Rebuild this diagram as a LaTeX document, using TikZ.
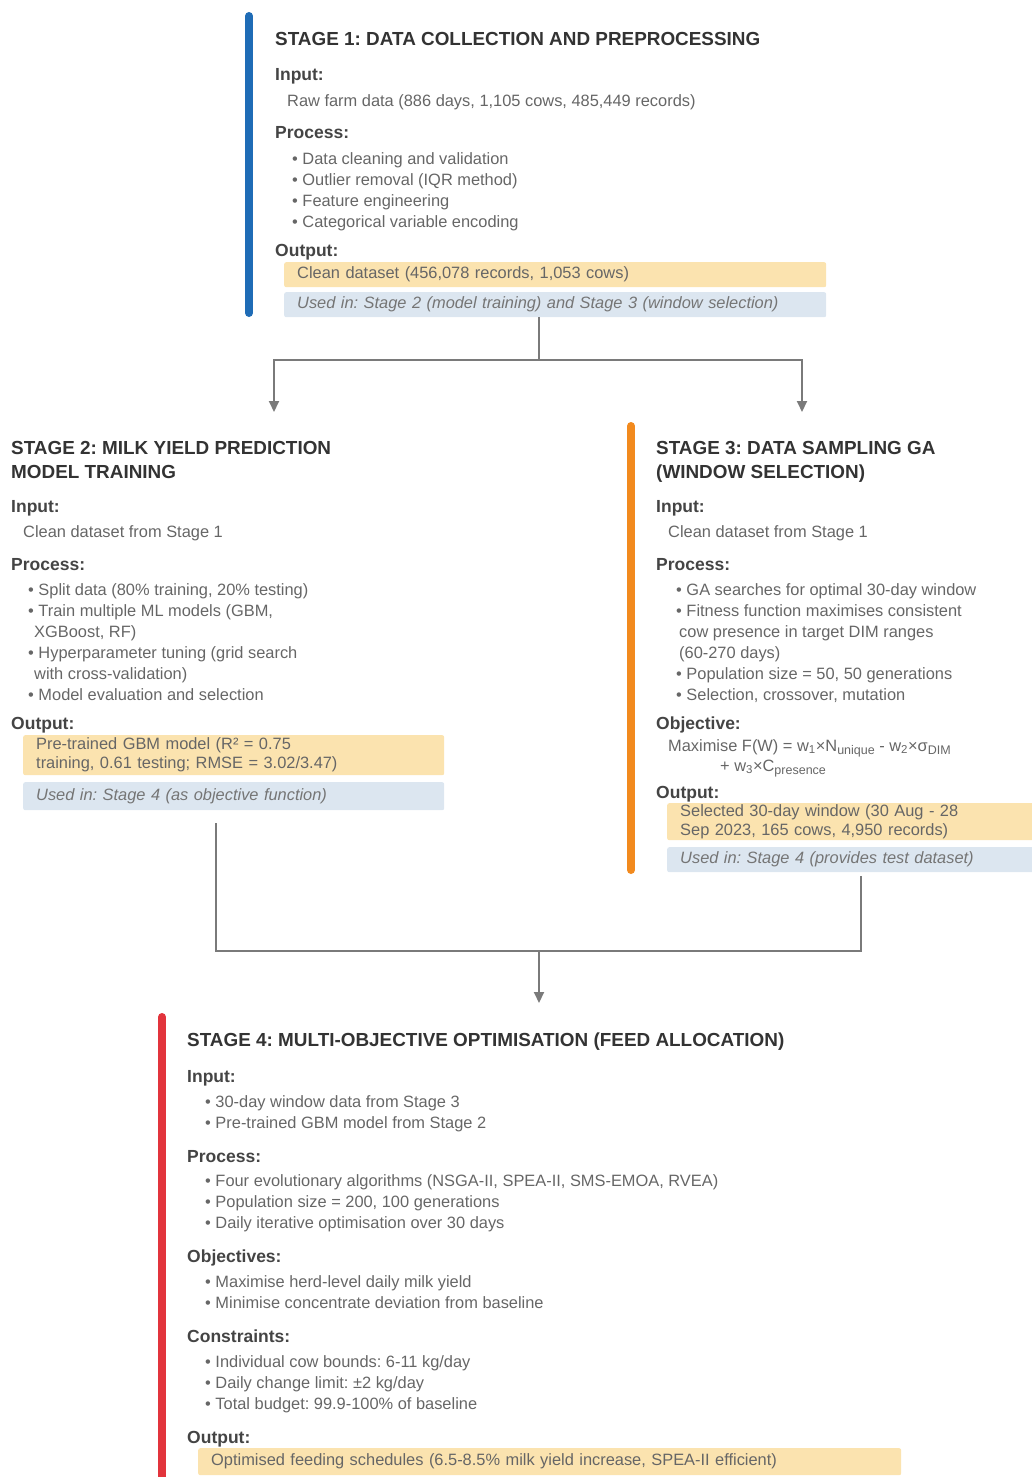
\documentclass[tikz,border=0pt]{standalone}
\usepackage{fontspec}
\setmainfont{Liberation Sans}
\usetikzlibrary{arrows.meta}

\definecolor{stageblue}{HTML}{1F6CB6}
\definecolor{stageorange}{HTML}{F28A1E}
\definecolor{stagered}{HTML}{E2343C}
\definecolor{outfill}{HTML}{FBE3AF}
\definecolor{usefill}{HTML}{DCE6F0}
\definecolor{titlegray}{HTML}{333333}
\definecolor{headgray}{HTML}{444444}
\definecolor{bodygray}{HTML}{666666}
\definecolor{linegray}{HTML}{7A7A7A}

\newcommand{\lowsub}[1]{\raisebox{-0.45ex}{\fontsize{12.5}{12.5}\selectfont #1}}
\frenchspacing

\begin{document}
\begin{tikzpicture}[
    x=1pt, y=-1pt,
    title/.style={anchor=base west, inner sep=0pt, yshift=-1pt, text=titlegray, font=\fontsize{18.9}{22}\selectfont\bfseries},
    head/.style={anchor=base west, inner sep=0pt, yshift=-1pt, text=headgray, font=\fontsize{17.5}{20}\selectfont\bfseries},
    body/.style={anchor=base west, inner sep=0pt, yshift=-1pt, text=bodygray, font=\fontsize{16.4}{19}\selectfont},
    outbox/.style={anchor=north west, fill=outfill, rounded corners=2pt, inner xsep=13pt, inner ysep=0pt, align=left, text=bodygray, font=\fontsize{16.4}{19}\selectfont},
    usebox/.style={outbox, fill=usefill, text=bodygray!90, font=\fontsize{16.4}{19}\selectfont\itshape},
    bar/.style={line width=8pt, line cap=round},
    link/.style={draw=linegray, line width=2pt},
    arrow/.style={link, -{Triangle[length=11pt, width=10pt]}}
]
    \clip (0,0) rectangle (1032,1477);

    % Stage 1
    \draw[bar, draw=stageblue] (249,16) -- (249,313);
    \node[title] (s1title) at (275,45) {STAGE 1: DATA COLLECTION AND PREPROCESSING};
    \node[head] (s1in) at (275,80) {Input:};
    \node[body] (s1data) at (287,105.5) {Raw farm data (886 days, 1,105 cows, 485,449 records)};
    \node[head] (s1proc) at (275,138) {Process:};
    \node[body] (s1p1) at (292,163.5) {• Data cleaning and validation};
    \node[body] (s1p2) at (292,184.5) {• Outlier removal (IQR method)};
    \node[body] (s1p3) at (292,205.5) {• Feature engineering};
    \node[body] (s1p4) at (292,226.5) {• Categorical variable encoding};
    \node[head] (s1outl) at (275,255) {Output:};
    \node[outbox, text width=516pt, minimum height=25pt] (s1out) at (284,262) {Clean dataset (456,078 records, 1,053 cows)};
    \node[usebox, text width=516pt, minimum height=25pt] (s1use) at (284,292) {Used in: Stage 2 (model training) and Stage 3 (window selection)};

    % Split to Stage 2 and Stage 3
    \coordinate (fork) at (539,360);
    \coordinate (s2tip) at (274,412);
    \coordinate (s3tip) at (802,412);
    \draw[link] (s1use.south -| fork) -- (fork);
    \draw[arrow] (fork) -| (s2tip);
    \draw[arrow] (fork) -| (s3tip);

    % Stage 2
    \node[title] (s2title) at (11,453.5) {STAGE 2: MILK YIELD PREDICTION};
    \node[title] (s2title2) at (11,477.5) {MODEL TRAINING};
    \node[head] (s2in) at (11,511) {Input:};
    \node[body] (s2data) at (23,536.5) {Clean dataset from Stage 1};
    \node[head] (s2proc) at (11,569) {Process:};
    \node[body] (s2p1) at (28,594.5) {• Split data (80\% training, 20\% testing)};
    \node[body] (s2p2) at (28,615.5) {• Train multiple ML models (GBM,};
    \node[body] (s2p2b) at (34,636.5) {XGBoost, RF)};
    \node[body] (s2p3) at (28,657.5) {• Hyperparameter tuning (grid search};
    \node[body] (s2p3b) at (34,678.5) {with cross-validation)};
    \node[body] (s2p4) at (28,699.5) {• Model evaluation and selection};
    \node[head] (s2outl) at (11,728) {Output:};
    \node[outbox, text width=395pt, minimum height=40pt] (s2out) at (23,735) {Pre-trained GBM model (R² = 0.75\\training, 0.61 testing; RMSE = 3.02/3.47)};
    \node[usebox, text width=395pt, minimum height=28pt] (s2use) at (23,782) {Used in: Stage 4 (as objective function)};

    % Stage 3
    \draw[bar, draw=stageorange] (631,426) -- (631,870);
    \node[title] (s3title) at (656,453.5) {STAGE 3: DATA SAMPLING GA};
    \node[title] (s3title2) at (656,477.5) {(WINDOW SELECTION)};
    \node[head] (s3in) at (656,511) {Input:};
    \node[body] (s3data) at (668,536.5) {Clean dataset from Stage 1};
    \node[head] (s3proc) at (656,569) {Process:};
    \node[body] (s3p1) at (676,594.5) {• GA searches for optimal 30-day window};
    \node[body] (s3p2) at (676,615.5) {• Fitness function maximises consistent};
    \node[body] (s3p2b) at (679,636.5) {cow presence in target DIM ranges};
    \node[body] (s3p2c) at (679,657.5) {(60-270 days)};
    \node[body] (s3p3) at (676,678.5) {• Population size = 50, 50 generations};
    \node[body] (s3p4) at (676,699.5) {• Selection, crossover, mutation};
    \node[head] (s3obj) at (656,728) {Objective:};
    \node[body] (s3f1) at (668,750) {Maximise F(W) = w\textsubscript{1}×N\lowsub{unique} - w\textsubscript{2}×σ\lowsub{DIM}};
    \node[body] (s3f2) at (720,770) {+ w\textsubscript{3}×C\lowsub{presence}};
    \node[head] (s3outl) at (656,797) {Output:};
    \node[outbox, text width=367pt, minimum height=37pt] (s3out) at (667,803) {Selected 30-day window (30 Aug - 28\\Sep 2023, 165 cows, 4,950 records)};
    \node[usebox, text width=367pt, minimum height=25pt] (s3use) at (667,847) {Used in: Stage 4 (provides test dataset)};

    % Merge into Stage 4
    \coordinate (s2leg) at (216,823);
    \coordinate (s3leg) at (861,876);
    \coordinate (merge) at (539,951);
    \coordinate (s4tip) at (539,1003);
    \draw[link] (s2leg) |- (merge);
    \draw[link] (s3leg) |- (merge);
    \draw[arrow] (merge) -- (s4tip);

    % Stage 4
    \draw[bar, draw=stagered] (162,1017) -- (162,1490);
    \node[title] (s4title) at (187,1045.5) {STAGE 4: MULTI-OBJECTIVE OPTIMISATION (FEED ALLOCATION)};
    \node[head] (s4in) at (187,1081) {Input:};
    \node[body] (s4i1) at (205,1106.5) {• 30-day window data from Stage 3};
    \node[body] (s4i2) at (205,1127.5) {• Pre-trained GBM model from Stage 2};
    \node[head] (s4proc) at (187,1161) {Process:};
    \node[body] (s4p1) at (205,1185.5) {• Four evolutionary algorithms (NSGA-II, SPEA-II, SMS-EMOA, RVEA)};
    \node[body] (s4p2) at (205,1206.5) {• Population size = 200, 100 generations};
    \node[body] (s4p3) at (205,1227.5) {• Daily iterative optimisation over 30 days};
    \node[head] (s4obj) at (187,1261) {Objectives:};
    \node[body] (s4o1) at (205,1286.5) {• Maximise herd-level daily milk yield};
    \node[body] (s4o2) at (205,1307.5) {• Minimise concentrate deviation from baseline};
    \node[head] (s4con) at (187,1341) {Constraints:};
    \node[body] (s4c1) at (205,1366.5) {• Individual cow bounds: 6-11 kg/day};
    \node[body] (s4c2) at (205,1387.5) {• Daily change limit: ±2 kg/day};
    \node[body] (s4c3) at (205,1408.5) {• Total budget: 99.9-100\% of baseline};
    \node[head] (s4outl) at (187,1442) {Output:};
    \node[outbox, text width=677pt, minimum height=27pt] (s4out) at (198,1448) {Optimised feeding schedules (6.5-8.5\% milk yield increase, SPEA-II efficient)};

\end{tikzpicture}
\end{document}
